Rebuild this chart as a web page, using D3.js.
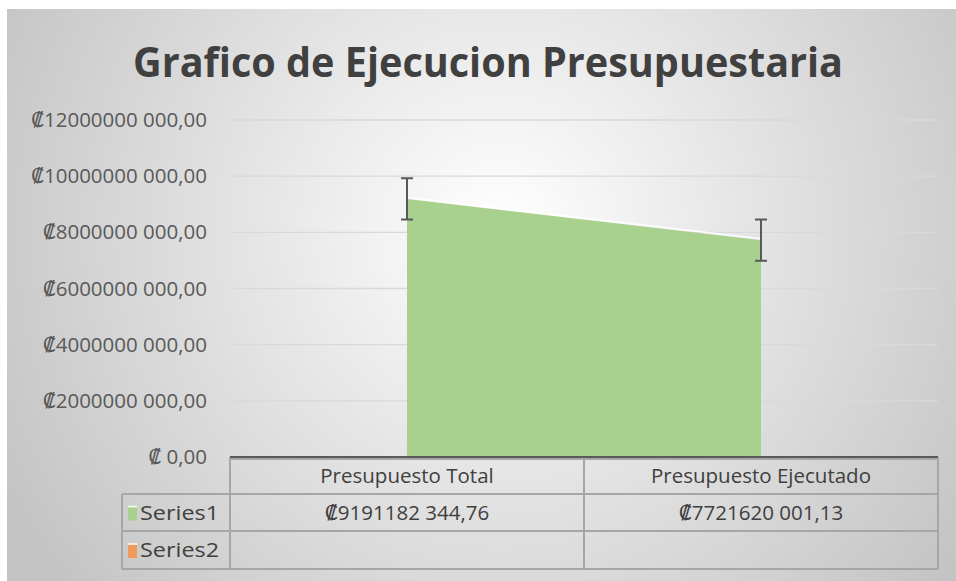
<!DOCTYPE html>
<meta charset="utf-8">
<style>
body { margin: 0; background: #fff; }
text { font-family: "Open Sans", "DejaVu Sans", sans-serif; fill: #404040; }
</style>
<body>
<script src="https://cdn.jsdelivr.net/npm/d3@7"></script>
<script>
// data
var categories = ["Presupuesto Total", "Presupuesto Ejecutado"];
var series1 = [9191182344.76, 7721620001.13];
var seriesNames = ["Series1", "Series2"];
var seriesColors = ["#a9d18e", "#f09a5c"];
var errorAmount = 735000000; // standard error bars
var yTicks = [0, 2e9, 4e9, 6e9, 8e9, 10e9, 12e9];

var W = 956, H = 581;
var fs = 20.5;
var svg = d3.select("body").append("svg").attr("width", W).attr("height", H);

// background gradient
var defs = svg.append("defs");
var grad = defs.append("radialGradient").attr("id", "bg")
    .attr("gradientUnits", "userSpaceOnUse")
    .attr("cx", 500).attr("cy", 230).attr("r", 560);
grad.append("stop").attr("offset", "0").attr("stop-color", "#ffffff");
grad.append("stop").attr("offset", "1").attr("stop-color", "#c4c4c4");
svg.append("rect").attr("x", 7).attr("y", 9).attr("width", W - 7).attr("height", H - 9)
    .attr("fill", "url(#bg)");

// colon format like Excel: ₡9191182 344,76
function fmt(v) {
  if (v === 0) return "\u20A1 0,00";
  var s = v.toFixed(2).split(".");
  var intp = s[0];
  if (intp.length > 3) intp = intp.slice(0, -3) + " " + intp.slice(-3);
  return "\u20A1" + intp + "," + s[1];
}

var plot = {left: 230, right: 938, top: 120, bottom: 457};
var x = d3.scaleBand().domain(categories).range([plot.left, plot.right]);
var y = d3.scaleLinear().domain([0, 12e9]).range([plot.bottom, plot.top]);

// title
svg.append("text").attr("x", 488).attr("y", 77).attr("text-anchor", "middle")
    .attr("font-size", 42).attr("font-weight", "bold")
    .attr("textLength", 710).attr("lengthAdjust", "spacingAndGlyphs")
    .style("fill", "#404040")
    .text("Grafico de Ejecucion Presupuestaria");

// gridlines
svg.append("g").selectAll("line").data(yTicks.slice(1)).enter().append("line")
    .attr("x1", plot.left).attr("x2", plot.right)
    .attr("y1", function(d) { return y(d); }).attr("y2", function(d) { return y(d); })
    .attr("stroke", "#d9d9d9").attr("stroke-width", 1.3);

// y axis labels
svg.append("g").selectAll("text").data(yTicks).enter().append("text")
    .attr("x", 207).attr("y", function(d) { return y(d) + 7; })
    .attr("text-anchor", "end").attr("font-size", fs)
    .style("fill", "#595959")
    .text(fmt);

// area
var cx = function(d, i) { return x(categories[i]) + x.bandwidth() / 2; };
var area = d3.area().x(cx).y0(plot.bottom).y1(function(d) { return y(d); });
svg.append("path").datum(series1).attr("d", area).attr("fill", seriesColors[0]);
var topLine = d3.line().x(cx).y(function(d) { return y(d) - 1.5; });
svg.append("path").datum(series1).attr("d", topLine)
    .attr("fill", "none").attr("stroke", "#ffffff").attr("stroke-width", 1.5).attr("opacity", 0.9);

// error bars
var eb = svg.append("g").attr("stroke", "#595959").attr("stroke-width", 2);
series1.forEach(function(v, i) {
  var px = cx(v, i);
  var y1 = y(v + errorAmount), y2 = y(v - errorAmount);
  eb.append("line").attr("x1", px).attr("x2", px).attr("y1", y1).attr("y2", y2);
  eb.append("line").attr("x1", px - 6).attr("x2", px + 6).attr("y1", y1).attr("y2", y1);
  eb.append("line").attr("x1", px - 6).attr("x2", px + 6).attr("y1", y2).attr("y2", y2);
});

// data table
var rowH = [457, 494, 531, 569];
var legendLeft = 122;
var tg = svg.append("g").attr("stroke", "#a6a6a6").attr("stroke-width", 2).attr("fill", "none");
tg.append("line").attr("x1", plot.left).attr("x2", plot.right).attr("y1", rowH[0] + 2).attr("y2", rowH[0] + 2);
[1, 2, 3].forEach(function(k) {
  tg.append("line").attr("x1", legendLeft).attr("x2", plot.right).attr("y1", rowH[k]).attr("y2", rowH[k]);
});
tg.append("line").attr("x1", legendLeft).attr("x2", legendLeft).attr("y1", rowH[1]).attr("y2", rowH[3]);
tg.append("line").attr("x1", plot.left).attr("x2", plot.left).attr("y1", rowH[0]).attr("y2", rowH[3]);
categories.forEach(function(c) {
  var xr = x(c) + x.bandwidth();
  tg.append("line").attr("x1", xr).attr("x2", xr).attr("y1", rowH[0]).attr("y2", rowH[3]);
});
// axis line
svg.append("line").attr("x1", plot.left).attr("x2", plot.right).attr("y1", plot.bottom).attr("y2", plot.bottom)
    .attr("stroke", "#595959").attr("stroke-width", 2);

// header text
svg.append("g").selectAll("text").data(categories).enter().append("text")
    .attr("x", function(d) { return x(d) + x.bandwidth() / 2; })
    .attr("y", 483).attr("text-anchor", "middle").attr("font-size", fs)
    .text(function(d) { return d; });

// values
svg.append("g").selectAll("text").data(series1).enter().append("text")
    .attr("x", cx).attr("y", 520).attr("text-anchor", "middle").attr("font-size", fs)
    .text(fmt);

// legend keys
seriesNames.forEach(function(n, i) {
  var yc = (rowH[i + 1] + rowH[i + 2]) / 2;
  svg.append("rect").attr("x", 128).attr("y", yc - 7).attr("width", 9).attr("height", 15)
      .attr("fill", seriesColors[i]);
  svg.append("rect").attr("x", 128).attr("y", yc - 7).attr("width", 9).attr("height", 2)
      .attr("fill", "#ffffff").attr("opacity", 0.8);
  svg.append("text").attr("x", 140).attr("y", yc + 7).attr("font-size", fs)
      .attr("textLength", 79).attr("lengthAdjust", "spacingAndGlyphs").text(n);
});
</script>
</body>
